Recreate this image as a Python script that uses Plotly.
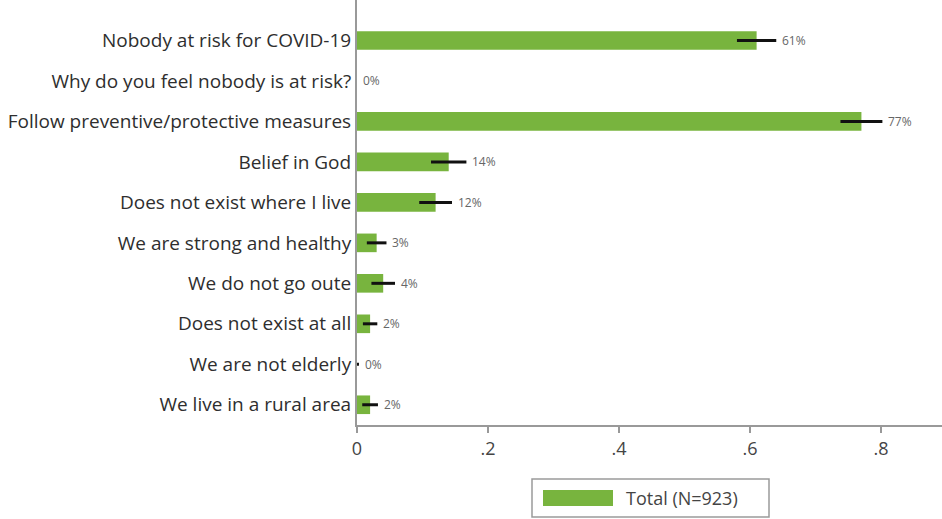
import plotly.graph_objects as go

categories = [
    "Nobody at risk for COVID-19",
    "Why do you feel nobody is at risk?",
    "Follow preventive/protective measures",
    "Belief in God",
    "Does not exist where I live",
    "We are strong and healthy",
    "We do not go oute",
    "Does not exist at all",
    "We are not elderly",
    "We live in a rural area",
]
values = [0.61, 0.0, 0.77, 0.14, 0.12, 0.03, 0.04, 0.02, 0.0, 0.02]
errors = [0.030, 0.0, 0.032, 0.027, 0.025, 0.015, 0.018, 0.011, 0.003, 0.012]
value_labels = ["61%", "0%", "77%", "14%", "12%", "3%", "4%", "2%", "0%", "2%"]
x_tickvals = [0, 0.2, 0.4, 0.6, 0.8]
x_ticktext = ["0", ".2", ".4", ".6", ".8"]
legend_label = "Total (N=923)"

GREEN = "#78b43e"
FONT = "Open Sans"
positions = list(range(len(categories)))

fig = go.Figure()
fig.add_trace(go.Bar(
    y=positions, x=values, orientation="h",
    marker=dict(color=GREEN, line=dict(width=0)),
    width=0.46,
    error_x=dict(type="data", array=errors, color="#111111", thickness=3, width=0),
    name=legend_label, showlegend=False,
))

for p, v, e, lab in zip(positions, values, errors, value_labels):
    fig.add_annotation(x=v + e, y=p, text=lab, showarrow=False,
                       xanchor="left", yanchor="middle", xshift=4,
                       font=dict(size=12, color="#666666", family=FONT))

# legend box drawn manually
fig.add_shape(type="rect", xref="paper", yref="paper",
              x0=(532-357)/585, x1=(769-357)/585, y0=-92/425, y1=-54/425,
              line=dict(color="#9a9a9a", width=1.5), fillcolor="white")
fig.add_shape(type="rect", xref="paper", yref="paper",
              x0=(543-357)/585, x1=(613-357)/585, y0=-81/425, y1=-65/425,
              line=dict(width=0), fillcolor=GREEN)
fig.add_annotation(xref="paper", yref="paper", x=(624-357)/585, y=-73/425,
                   text=legend_label, showarrow=False, xanchor="left", yanchor="middle",
                   font=dict(size=18, color="#444444", family=FONT))

fig.update_layout(
    width=942, height=519,
    margin=dict(l=357, r=0, t=0, b=94),
    plot_bgcolor="white", paper_bgcolor="white",
    font=dict(family=FONT, color="#333333"),
    showlegend=False,
)
fig.update_xaxes(
    range=[0, 0.893], tickvals=x_tickvals, ticktext=x_ticktext,
    showgrid=False, zeroline=False,
    showline=True, linecolor="#999999", linewidth=2,
    ticks="outside", ticklen=6, tickcolor="#999999", tickwidth=1.5,
    tickfont=dict(size=18, color="#444444"),
)
fig.update_yaxes(
    range=[9.5, -1], tickvals=positions, ticktext=categories,
    showgrid=False, zeroline=False,
    showline=True, linecolor="#999999", linewidth=2,
    ticks="",
    tickfont=dict(size=19, color="#2e2e2e"),
)

fig.write_html("out.html", config={"displayModeBar": False},
               post_script="document.body.style.margin='0';")
